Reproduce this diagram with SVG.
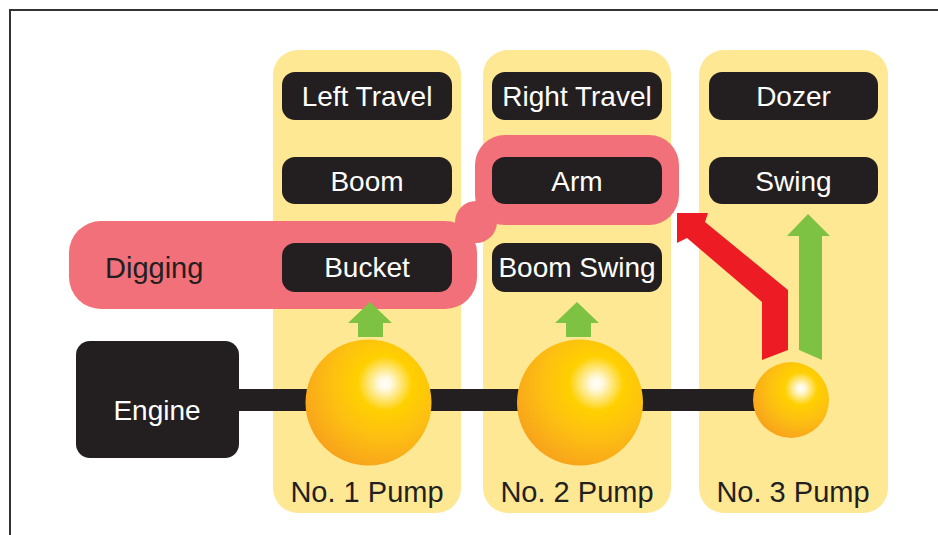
<svg xmlns="http://www.w3.org/2000/svg" width="938" height="535" viewBox="0 0 938 535">
  <style>
    .col { fill: #fee893; }
    .box { fill: #231f20; }
    .lbl { font-family: "Liberation Sans", Arial, Helvetica, sans-serif; font-size: 28px; fill: #ffffff; text-anchor: middle; }
    .dark { font-family: "Liberation Sans", Arial, Helvetica, sans-serif; font-size: 29px; fill: #231f20; }
    .pink { fill: #f17079; }
    .green { fill: #7dc242; }
    .red { fill: #ed1c24; }
  </style>
  <defs>
    <radialGradient id="ball" cx="0.63" cy="0.35" r="0.72" fx="0.63" fy="0.35">
      <stop offset="0" stop-color="#ffffff"/>
      <stop offset="0.07" stop-color="#fff9e0"/>
      <stop offset="0.3" stop-color="#ffd000"/>
      <stop offset="0.6" stop-color="#fdbf12"/>
      <stop offset="1" stop-color="#f7a01c"/>
    </radialGradient>
  </defs>
  <rect x="0" y="0" width="938" height="535" fill="#ffffff"/>
  <rect id="frame" x="10" y="10" width="940" height="540" fill="none" stroke="#333333" stroke-width="2"/>

  <g id="columns">
    <rect id="col1" class="col" x="273" y="50" width="188" height="463" rx="25"/>
    <rect id="col2" class="col" x="483" y="50" width="188" height="463" rx="25"/>
    <rect id="col3" class="col" x="699" y="50" width="189" height="463" rx="25"/>
  </g>

  <g id="connectors">
    <rect id="shaft" class="box" x="230" y="389" width="565" height="22"/>
  </g>

  <g id="engine">
    <rect class="box" x="76" y="341" width="163" height="117" rx="14"/>
    <text class="lbl" x="157" y="420">Engine</text>
  </g>

  <g id="pump1">
    <circle cx="368.5" cy="402.5" r="63" fill="url(#ball)"/>
    <text class="dark" x="367" y="502" text-anchor="middle">No. 1 Pump</text>
  </g>
  <g id="pump2">
    <circle cx="580" cy="402.5" r="63" fill="url(#ball)"/>
    <text class="dark" x="577" y="502" text-anchor="middle">No. 2 Pump</text>
  </g>
  <g id="pump3">
    <circle cx="791" cy="400" r="38" fill="url(#ball)"/>
    <text class="dark" x="793" y="502" text-anchor="middle">No. 3 Pump</text>
  </g>

  <g id="digging">
    <rect class="pink" x="69" y="221" width="408" height="88" rx="32"/>
    <rect class="pink" x="475" y="135" width="204" height="90" rx="30"/>
    <circle class="pink" cx="476" cy="222" r="21"/>
    <text class="dark" x="105" y="278">Digging</text>
  </g>

  <g id="left-travel"><rect class="box" x="282" y="72" width="170" height="48" rx="13"/><text class="lbl" x="367" y="106">Left Travel</text></g>
  <g id="boom"><rect class="box" x="282" y="157" width="170" height="47" rx="13"/><text class="lbl" x="367" y="191">Boom</text></g>
  <g id="bucket"><rect class="box" x="282" y="243" width="170" height="49" rx="13"/><text class="lbl" x="367" y="277">Bucket</text></g>
  <g id="right-travel"><rect class="box" x="492" y="72" width="170" height="48" rx="13"/><text class="lbl" x="577" y="106">Right Travel</text></g>
  <g id="arm"><rect class="box" x="492" y="157" width="170" height="47" rx="13"/><text class="lbl" x="577" y="191">Arm</text></g>
  <g id="boom-swing"><rect class="box" x="492" y="243" width="170" height="49" rx="13"/><text class="lbl" x="577" y="277">Boom Swing</text></g>
  <g id="dozer"><rect class="box" x="709" y="72" width="169" height="48" rx="13"/><text class="lbl" x="793.5" y="106">Dozer</text></g>
  <g id="swing"><rect class="box" x="709" y="157" width="169" height="47" rx="13"/><text class="lbl" x="793.5" y="191">Swing</text></g>

  <g id="arrows">
    <polygon class="green" points="370,302 392,323 383,323 383,337 358,337 358,323 348,323"/>
    <polygon class="green" points="577,302 599,323 591,323 591,337 566,337 566,323 555,323"/>
    <polygon class="green" points="808,214 830,236 822,236 822,360 799,350 799,236 787,236"/>
    <polygon class="red" points="677,213 708,213 705,222 788,290 788,350 762,360 762,302 687,238 677,243"/>
  </g>
</svg>
